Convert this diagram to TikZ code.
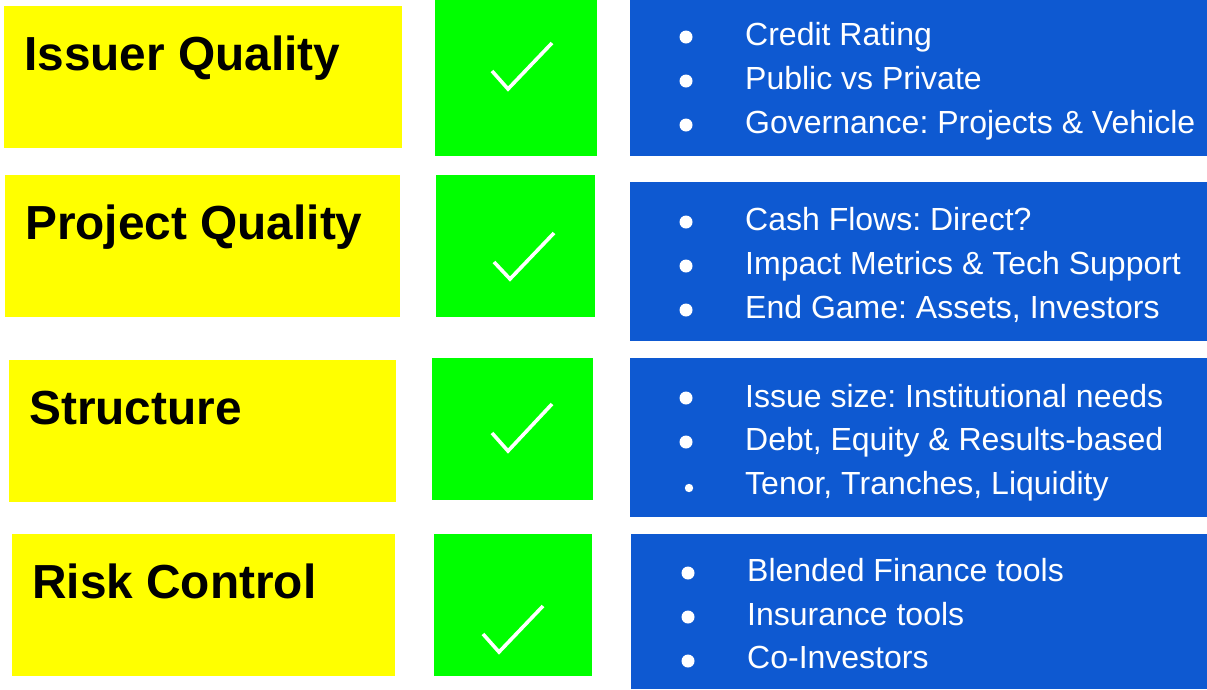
\documentclass[tikz,border=0pt]{standalone}
\usepackage{fontspec}
\setmainfont{Liberation Sans}
\definecolor{ylw}{RGB}{255,255,0}
\definecolor{grn}{RGB}{0,255,0}
\definecolor{blu}{RGB}{14,89,209}
\frenchspacing
\begin{document}
\begin{tikzpicture}[x=1pt,y=-1pt,
  box/.style={anchor=north west,inner sep=0pt,outer sep=0pt,draw=none},
  ybox/.style={box,fill=ylw},
  gbox/.style={box,fill=grn},
  bbox/.style={box,fill=blu},
  head/.style={anchor=base west,inner sep=0pt,font=\fontsize{47.8}{52}\selectfont\bfseries,text=black},
  item/.style={anchor=base west,inner sep=0pt,font=\fontsize{32}{36}\selectfont,text=white},
  tick/.style={draw=white,line width=3.6pt,miter limit=10},
  dot/.style={fill=white}]
\useasboundingbox (0,0) rectangle (1207,689);
% yellow boxes
\node[ybox,minimum width=398,minimum height=142] (y1) at (4,6) {};
\node[ybox,minimum width=395,minimum height=142] (y2) at (5,175) {};
\node[ybox,minimum width=387,minimum height=142] (y3) at (9,360) {};
\node[ybox,minimum width=383,minimum height=142] (y4) at (12,534) {};
% green boxes
\node[gbox,minimum width=162,minimum height=156] (g1) at (435,0) {};
\node[gbox,minimum width=159,minimum height=142] (g2) at (436,175) {};
\node[gbox,minimum width=161,minimum height=142] (g3) at (432,358) {};
\node[gbox,minimum width=158,minimum height=142] (g4) at (434,534) {};
% blue boxes
\node[bbox,minimum width=577,minimum height=156] (b1) at (630,0) {};
\node[bbox,minimum width=577,minimum height=159] (b2) at (630,182) {};
\node[bbox,minimum width=577,minimum height=159] (b3) at (630,358) {};
\node[bbox,minimum width=576,minimum height=155] (b4) at (631,534) {};
% headings
\node[head] (h1) at (24,70) {Issuer Quality};
\node[head] (h2) at (25,239) {Project Quality};
\node[head] (h3) at (29,424) {Structure};
\node[head] (h4) at (32,598) {Risk Control};
% check marks
\draw[tick] (492,71) -- (508,89) -- (552,43);
\draw[tick] (494,262) -- (510,279) -- (554,233);
\draw[tick] (492,433) -- (508,451) -- (552,404);
\draw[tick] (483,634) -- (499,652) -- (543,606);
% bullets
\fill[dot] (686,37) circle (6.5);
\fill[dot] (686,81) circle (6.5);
\fill[dot] (686,125) circle (6.5);
\fill[dot] (686,222) circle (6.5);
\fill[dot] (686,266) circle (6.5);
\fill[dot] (686,310) circle (6.5);
\fill[dot] (686,398) circle (6.5);
\fill[dot] (686,442) circle (6.5);
\fill[dot] (689,488) circle (4.2);
\fill[dot] (688,573) circle (6.5);
\fill[dot] (688,617) circle (6.5);
\fill[dot] (688,661) circle (6.5);
% items
\node[item] (t11) at (745,45) {Credit Rating};
\node[item] (t12) at (745,89) {Public vs Private};
\node[item] (t13) at (745,133) {Governance: Projects \& Vehicle};
\node[item] (t21) at (745,230) {Cash Flows: Direct?};
\node[item] (t22) at (745,274) {Impact Metrics \& Tech Support};
\node[item] (t23) at (745,318) {End Game: Assets, Investors};
\node[item] (t31) at (745,407) {Issue size: Institutional needs};
\node[item] (t32) at (745,450) {Debt, Equity \& Results-based};
\node[item] (t33) at (745,494) {Tenor, Tranches, Liquidity};
\node[item] (t41) at (747,581) {Blended Finance tools};
\node[item] (t42) at (747,625) {Insurance tools};
\node[item] (t43) at (747,668) {Co-Investors};
\end{tikzpicture}
\end{document}
